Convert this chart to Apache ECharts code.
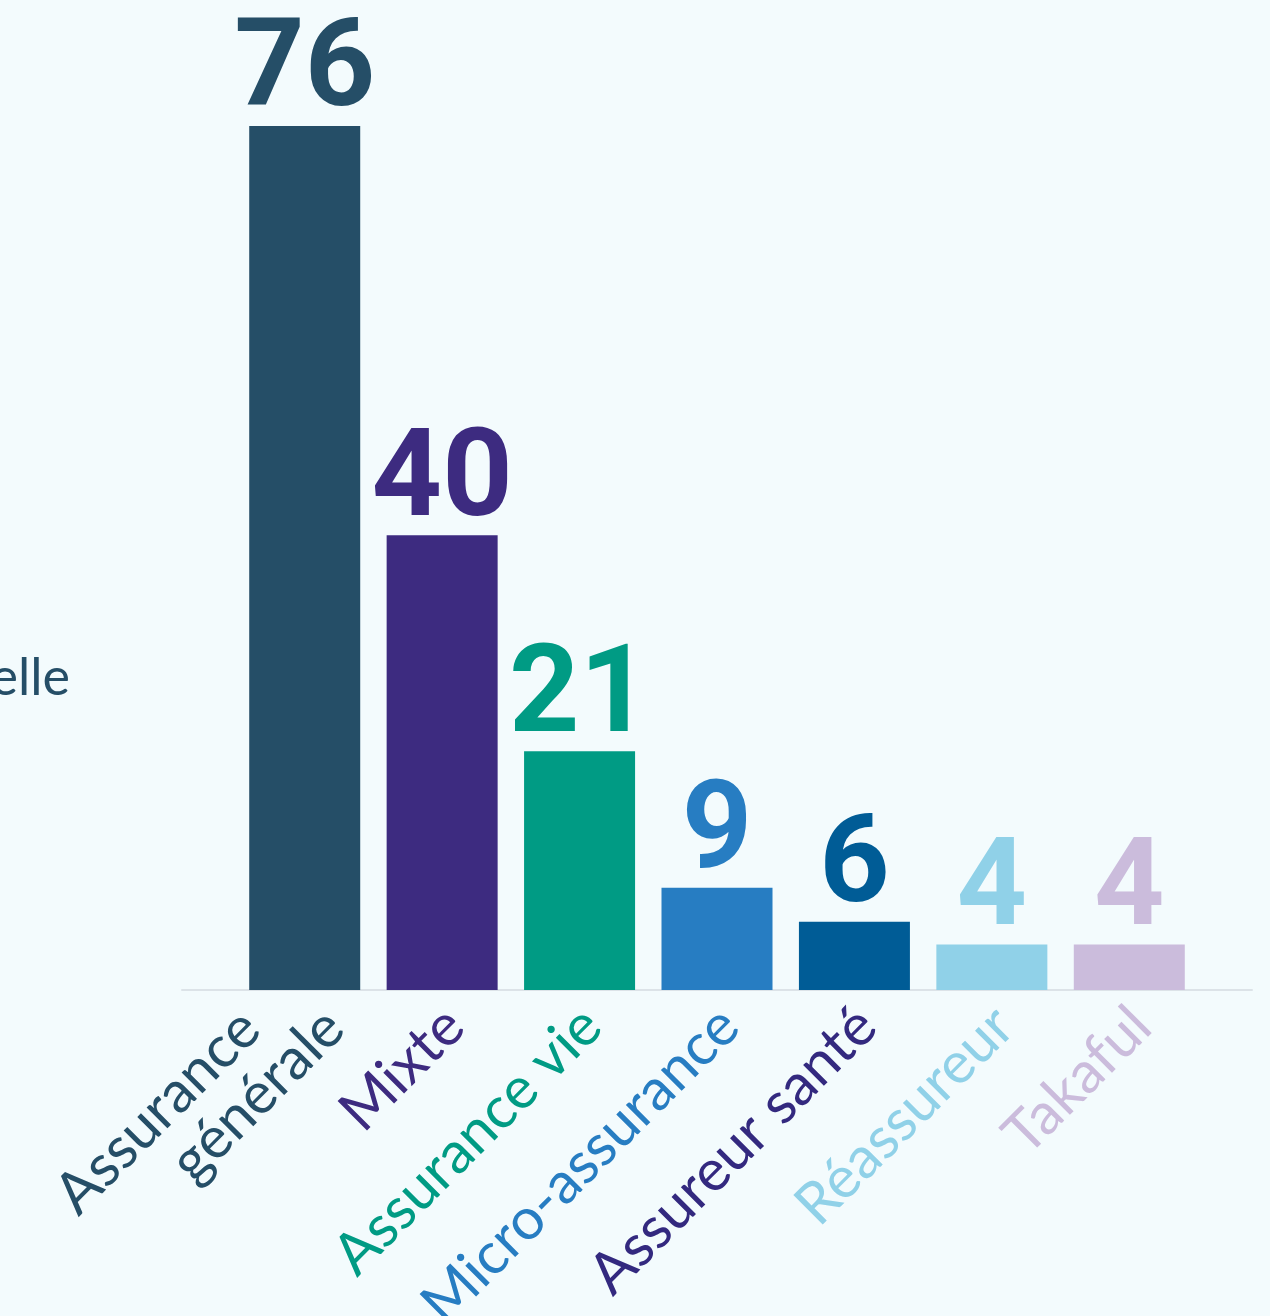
<!DOCTYPE html>
<html>
<head>
<meta charset="utf-8">
<script src="https://cdn.jsdelivr.net/npm/echarts@6/dist/echarts.min.js"></script>
<style>
html,body{margin:0;padding:0;background:#f3fbfd;}
#chart{width:1270px;height:1316px;}
</style>
</head>
<body>
<div id="chart"></div>
<script>
const categories = ['Assurance\ngénérale', 'Mixte', 'Assurance vie', 'Micro-assurance', 'Assureur santé', 'Réassureur', 'Takaful'];
const values = [76, 40, 21, 9, 6, 4, 4];
const barColors = ['#254e67', '#3d2b80', '#009b84', '#277dc2', '#005c96', '#90d1e8', '#cbbcdc'];
const labelColors = ['#254e67', '#3d2b80', '#009b84', '#277dc2', '#33297f', '#90d1e8', '#cbbcdc'];
const valueLabelColors = ['#254e67', '#3d2b80', '#009b84', '#277dc2', '#005c96', '#90d1e8', '#cbbcdc'];
const sideText = 'elle';

const chart = echarts.init(document.getElementById('chart'));
const gridBase = {top: 80.5, bottom: 326, containLabel: false, outerBoundsMode: 'none'};
chart.setOption({
  backgroundColor: '#f3fbfd',
  animation: false,
  grid: [
    Object.assign({left: 236, right: 72}, gridBase),
    Object.assign({left: 182, right: 18}, gridBase),
    Object.assign({left: 256, right: 52}, gridBase)
  ],
  xAxis: [
    {
      type: 'category', gridIndex: 0, data: categories,
      axisLine: {show: false}, axisTick: {show: false}, axisLabel: {show: false}
    },
    {
      type: 'value', gridIndex: 1, min: 0, max: 1,
      axisLine: {show: true, lineStyle: {color: '#dce3e8', width: 2}},
      axisTick: {show: false}, axisLabel: {show: false}, splitLine: {show: false}
    },
    {
      type: 'category', gridIndex: 2,
      data: categories.map((c, i) => ({value: c, textStyle: {color: labelColors[i]}})),
      axisLine: {show: false}, axisTick: {show: false},
      axisLabel: {
        rotate: 45, interval: 0, margin: 19, fontFamily: 'Lato', fontSize: 58, lineHeight: 64, align: 'right',
        formatter: function (v) {
          const lines = v.split('\n');
          if (lines.length > 1) return '{a|' + lines[0] + '}\n{b|' + lines[1] + '}';
          return '{c|' + v + '}';
        },
        rich: {
          a: {fontFamily: 'Lato', fontSize: 58, lineHeight: 59, padding: [0, 60, 32, 0]},
          b: {fontFamily: 'Lato', fontSize: 58, lineHeight: 59, padding: [0, 0, 32, 0]},
          c: {fontFamily: 'Lato', fontSize: 58, lineHeight: 64, padding: [0, 11, 0, 0]}
        }
      }
    }
  ],
  yAxis: [
    {type: 'value', gridIndex: 0, min: 0, max: 80, show: false},
    {type: 'value', gridIndex: 1, min: 0, max: 1, show: false},
    {type: 'value', gridIndex: 2, min: 0, max: 1, show: false}
  ],
  graphic: [{
    type: 'text', right: 1200, top: 652,
    style: {text: sideText, fill: '#254e67', font: '52px Lato', textAlign: 'right'}
  }],
  series: [{
    type: 'bar', xAxisIndex: 0, yAxisIndex: 0, barWidth: 111,
    data: values.map((v, i) => ({value: v, itemStyle: {color: barColors[i]}, label: {color: valueLabelColors[i]}})),
    label: {
      show: true, position: 'top', distance: -10,
      fontFamily: 'Roboto', fontWeight: 'bold', fontSize: 123, lineHeight: 123
    }
  }]
});
</script>
</body>
</html>
